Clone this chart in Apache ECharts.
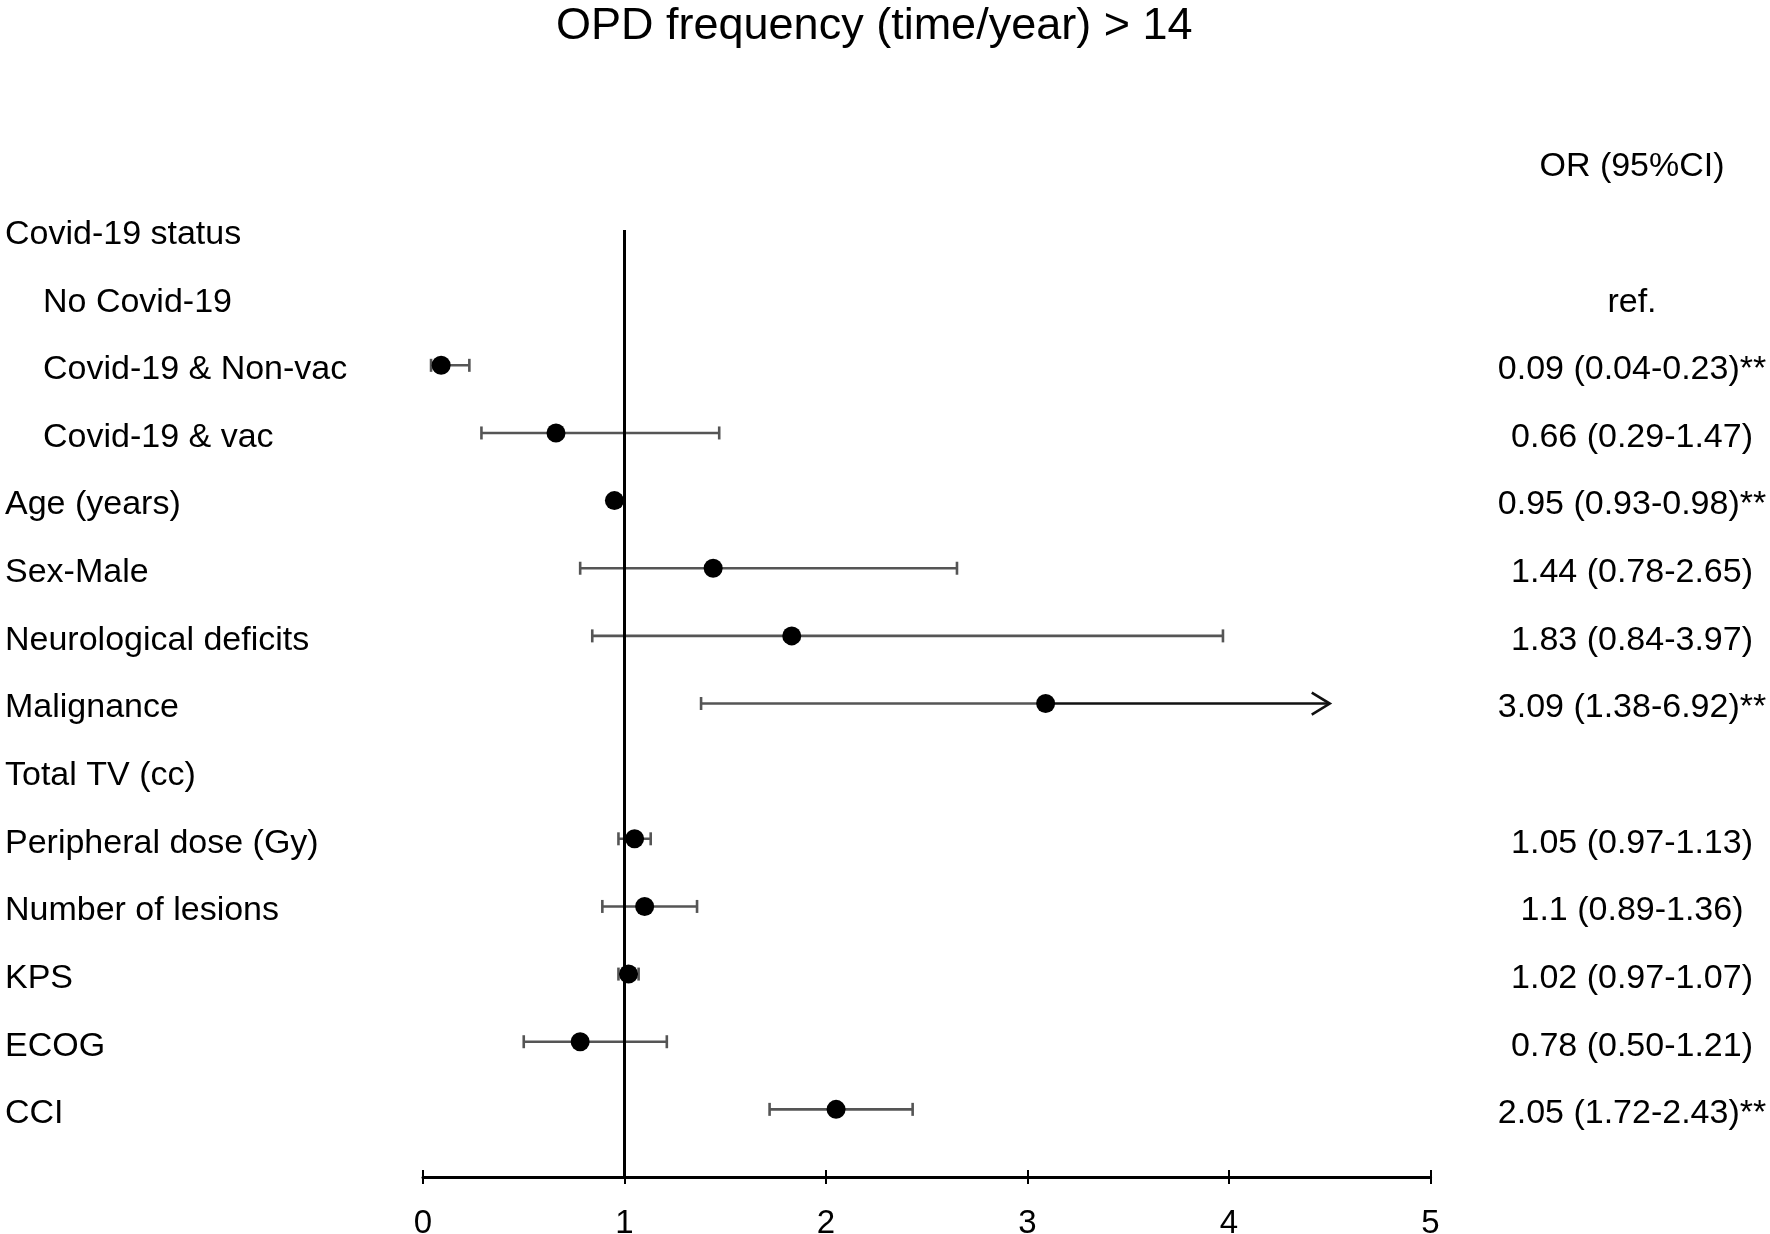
<!DOCTYPE html>
<html>
<head>
<meta charset="utf-8">
<script src="https://cdn.jsdelivr.net/npm/echarts@6/dist/echarts.min.js"></script>
<style>html,body{margin:0;padding:0;background:#fff;}#c{width:1770px;height:1234px;}</style>
</head>
<body>
<div id="c"></div>
<script>
const titleText = 'OPD frequency (time/year) > 14';
const headerText = 'OR (95%CI)';
const rowLabels = ['Covid-19 status','No Covid-19','Covid-19 & Non-vac','Covid-19 & vac','Age (years)','Sex-Male','Neurological deficits','Malignance','Total TV (cc)','Peripheral dose (Gy)','Number of lesions','KPS','ECOG','CCI'];
const indented = [false,true,true,true,false,false,false,false,false,false,false,false,false,false];
const orValues = [null,null,0.09,0.66,0.95,1.44,1.83,3.09,null,1.05,1.1,1.02,0.78,2.05];
const ciLower  = [null,null,0.04,0.29,0.93,0.78,0.84,1.38,null,0.97,0.89,0.97,0.50,1.72];
const ciUpper  = [null,null,0.23,1.47,0.98,2.65,3.97,6.92,null,1.13,1.36,1.07,1.21,2.43];
const orText = ['','ref.','0.09 (0.04-0.23)**','0.66 (0.29-1.47)','0.95 (0.93-0.98)**','1.44 (0.78-2.65)','1.83 (0.84-3.97)','3.09 (1.38-6.92)**','','1.05 (0.97-1.13)','1.1 (0.89-1.36)','1.02 (0.97-1.07)','0.78 (0.50-1.21)','2.05 (1.72-2.43)**'];
const xTicks = [0,1,2,3,4,5];
const refValue = 1;
const arrowLimit = 4.5;

const FONT = 'Liberation Sans, Arial, sans-serif';
const nRows = rowLabels.length;

const pointData = [];
const ciData = [];
for (let i = 0; i < nRows; i++) {
  if (orValues[i] != null) {
    pointData.push([orValues[i], i]);
    ciData.push([ciLower[i], ciUpper[i], i, orValues[i]]);
  }
}

const chart = echarts.init(document.getElementById('c'), null, {renderer: 'canvas'});

function renderCI(params, api) {
  const lo = api.value(0), hi = api.value(1), row = api.value(2), pt = api.value(3);
  const gray = '#555555';
  const capH = 6.5;
  const lw = 2.6;
  const pLo = api.coord([lo, row]);
  const children = [];
  children.push({type: 'line', shape: {x1: pLo[0], y1: pLo[1] - capH, x2: pLo[0], y2: pLo[1] + capH}, style: {stroke: gray, lineWidth: lw}});
  if (hi > arrowLimit) {
    const pPt = api.coord([pt, row]);
    const pEnd = api.coord([arrowLimit, row]);
    children.push({type: 'line', shape: {x1: pLo[0], y1: pLo[1], x2: pPt[0], y2: pPt[1]}, style: {stroke: gray, lineWidth: lw}});
    children.push({type: 'line', shape: {x1: pPt[0], y1: pPt[1], x2: pEnd[0], y2: pEnd[1]}, style: {stroke: '#111', lineWidth: lw}});
    children.push({type: 'polyline', shape: {points: [[pEnd[0] - 18, pEnd[1] - 11], [pEnd[0], pEnd[1]], [pEnd[0] - 18, pEnd[1] + 11]]}, style: {stroke: '#111', lineWidth: lw, fill: 'none'}});
  } else {
    const pHi = api.coord([hi, row]);
    children.push({type: 'line', shape: {x1: pLo[0], y1: pLo[1], x2: pHi[0], y2: pHi[1]}, style: {stroke: gray, lineWidth: lw}});
    children.push({type: 'line', shape: {x1: pHi[0], y1: pHi[1] - capH, x2: pHi[0], y2: pHi[1] + capH}, style: {stroke: gray, lineWidth: lw}});
  }
  return {type: 'group', children: children};
}

const option = {
  backgroundColor: '#fff',
  animation: false,
  title: {
    text: titleText,
    left: 551,
    top: -1,
    textStyle: {fontFamily: FONT, fontSize: 45, fontWeight: 'normal', color: '#000'}
  },
  grid: {left: 423, right: 339.5, top: 162.4, bottom: 57, containLabel: false, outerBoundsMode: 'none'},
  xAxis: [
    {
      type: 'value', min: 0, max: 5, interval: 1, position: 'bottom',
      axisLine: {show: true, onZero: false, lineStyle: {color: '#000', width: 3}},
      axisTick: {show: true, inside: false, length: 7, lineStyle: {color: '#000', width: 2}},
      axisLabel: {show: true, margin: 30, fontFamily: FONT, fontSize: 33, color: '#000',
        formatter: function (v) { return xTicks.indexOf(v) >= 0 ? String(v) : ''; }},
      splitLine: {show: false}
    },
    {
      type: 'value', min: 0, max: 5, interval: 1, position: 'bottom', offset: 0,
      axisLine: {show: false, onZero: false},
      axisTick: {show: true, inside: true, length: 7, lineStyle: {color: '#000', width: 2}},
      axisLabel: {show: false},
      splitLine: {show: false}
    }
  ],
  yAxis: [
    {
      type: 'value', min: -1, max: 14, interval: 1, inverse: true, position: 'left',
      axisLine: {show: false, onZero: false}, axisTick: {show: false}, splitLine: {show: false},
      axisLabel: {
        show: true, margin: 418, align: 'left', fontFamily: FONT, fontSize: 34, color: '#000',
        padding: [9, 0, 0, 0],
        formatter: function (v) {
          const i = Math.round(v);
          if (i < 0 || i >= nRows) return '';
          return indented[i] ? '{ind|' + rowLabels[i] + '}' : rowLabels[i];
        },
        rich: {
          ind: {fontFamily: FONT, fontSize: 34, color: '#000', padding: [0, 0, 0, 38]}
        }
      }
    },
    {
      type: 'value', min: -1, max: 14, interval: 1, inverse: true, position: 'right',
      axisLine: {show: false, onZero: false}, axisTick: {show: false}, splitLine: {show: false},
      axisLabel: {
        show: true, margin: 201.5, align: 'center', fontFamily: FONT, fontSize: 34, color: '#000',
        formatter: function (v) {
          const i = Math.round(v);
          if (i === -1) return '{r|' + headerText + '}';
          if (i < 0 || i >= nRows || !orText[i]) return '';
          return '{r|' + orText[i] + '}';
        },
        rich: {
          r: {fontFamily: FONT, fontSize: 34, color: '#000', padding: [9, 0, 0, 0]}
        }
      }
    }
  ],
  series: [
    {
      type: 'custom', xAxisIndex: 0, yAxisIndex: 0, renderItem: renderCI,
      encode: {x: [0, 1], y: 2}, data: ciData, clip: false, z: 2, silent: true
    },
    {
      type: 'line', xAxisIndex: 0, yAxisIndex: 0, data: [[refValue, 0], [refValue, 14]],
      symbol: 'none', lineStyle: {color: '#000', width: 3}, z: 3, silent: true
    },
    {
      type: 'scatter', xAxisIndex: 0, yAxisIndex: 0, data: pointData,
      symbol: 'circle', symbolSize: 19, itemStyle: {color: '#000', opacity: 1}, z: 4, silent: true
    }
  ]
};
chart.setOption(option);
</script>
</body>
</html>
